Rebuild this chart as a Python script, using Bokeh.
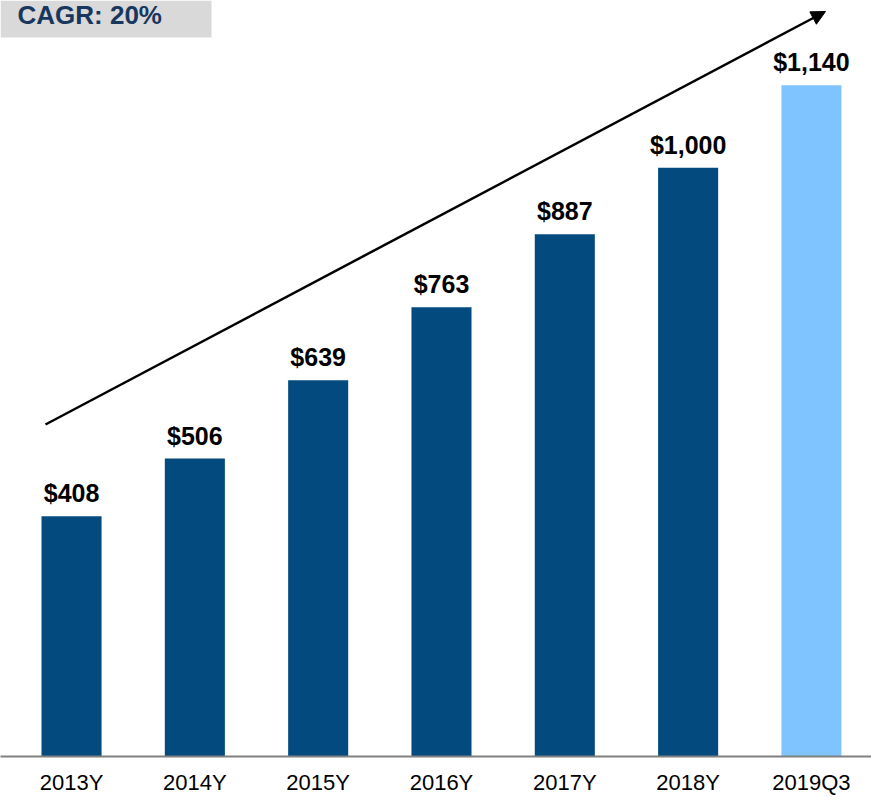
from bokeh.plotting import figure
from bokeh.models import Range1d, FixedTicker, ColumnDataSource, Arrow, NormalHead, Label
from bokeh.core.properties import value
from bokeh.embed import file_html
from bokeh.resources import INLINE

# ---- data ----
categories = ["2013Y", "2014Y", "2015Y", "2016Y", "2017Y", "2018Y", "2019Q3"]
values = [408, 506, 639, 763, 887, 1000, 1140]
bar_colors = ["#034B7F", "#034B7F", "#034B7F", "#034B7F", "#034B7F", "#034B7F", "#7FC4FF"]
value_labels = ["$408", "$506", "$639", "$763", "$887", "$1,000", "$1,140"]
cagr_text = "CAGR: 20%"

# ---- layout constants ----
W, H = 871, 797
FRAME_H = 756
x0, x1 = -0.576, 6.487
y0, y1 = 0, 1284
px_per_x = W / (x1 - x0)
px_per_y = FRAME_H / (y1 - y0)

def sx(px):  # screen px (from frame left) -> data x
    return x0 + px / px_per_x

def sy(py):  # screen px (from frame top) -> data y
    return y1 - py / px_per_y

xs = list(range(len(categories)))
source = ColumnDataSource(dict(x=xs, value=values, color=bar_colors, label=value_labels))

p = figure(width=W, height=H, x_range=Range1d(x0, x1), y_range=Range1d(y0, y1),
           output_backend="svg", toolbar_location=None,
           min_border_left=0, min_border_right=0, min_border_top=0,
           min_border_bottom=0)
p.outline_line_color = None
p.grid.visible = False
p.yaxis.visible = False
p.background_fill_color = "white"
p.border_fill_color = "white"

ax = p.xaxis[0]
ax.ticker = FixedTicker(ticks=xs)
ax.major_label_overrides = {i: c for i, c in zip(xs, categories)}
ax.major_tick_line_color = None
ax.major_tick_out = 0
ax.major_tick_in = 0
ax.minor_tick_line_color = None
ax.minor_tick_out = 0
ax.axis_line_color = "#808080"
ax.axis_line_width = 2
ax.major_label_standoff = 13
ax.major_label_text_line_height = 1.0
ax.major_label_text_font = "Liberation Sans"
ax.major_label_text_font_size = "22px"
ax.major_label_text_color = "black"

# grey CAGR box
p.quad(left=sx(0), right=sx(211), top=y1, bottom=sy(37),
       fill_color="#D9D9D9", line_color=None)
p.add_layout(Label(x=sx(17), y=sy(22), y_offset=8, text=cagr_text,
                   text_font="Liberation Sans", text_font_style="bold",
                   text_font_size="26px", text_color="#17375E",
                   text_baseline="alphabetic"))

# bars
p.vbar(x="x", top="value", bottom=0, width=0.487, source=source,
       fill_color="color", line_color=None)

# value labels
p.text(x="x", y="value", text="label", source=source,
       text_align="center", text_baseline="alphabetic", y_offset=-23,
       text_font=value("Liberation Sans"), text_font_style="bold",
       text_font_size="25px", text_color="black")

# trend arrow
p.add_layout(Arrow(x_start=sx(45), y_start=sy(424), x_end=sx(825), y_end=sy(11),
                   line_color="black", line_width=2.5,
                   end=NormalHead(size=14, fill_color="black", line_color="black")))

open("out.html", "w").write(file_html(p, INLINE))
